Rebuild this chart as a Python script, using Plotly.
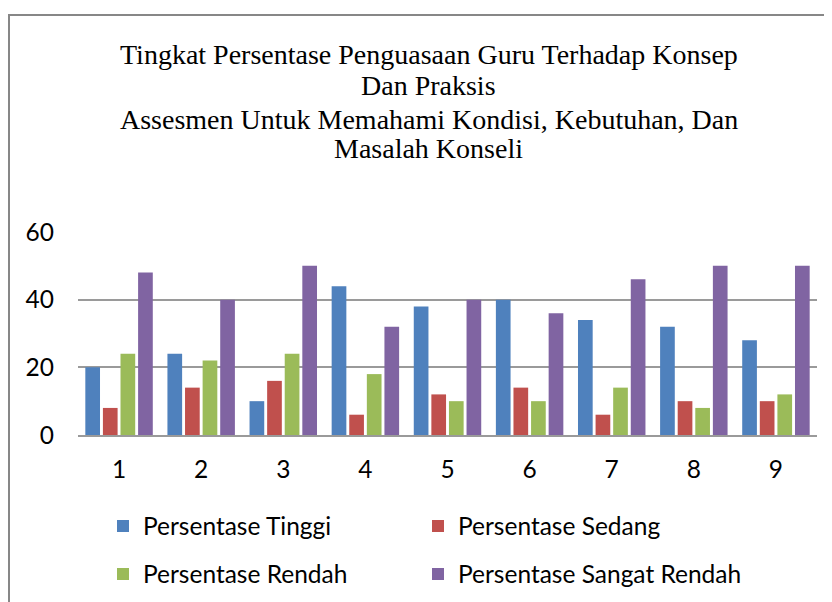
import plotly.graph_objects as go

categories = ["1", "2", "3", "4", "5", "6", "7", "8", "9"]
tinggi = [20, 24, 10, 44, 38, 40, 34, 32, 28]
sedang = [8, 14, 16, 6, 12, 14, 6, 10, 10]
rendah = [24, 22, 24, 18, 10, 10, 14, 8, 12]
sangat_rendah = [48, 40, 50, 32, 40, 36, 46, 50, 50]
series_names = ["Persentase Tinggi", "Persentase Sedang", "Persentase Rendah", "Persentase Sangat Rendah"]
title_lines = [
    "Tingkat Persentase Penguasaan Guru Terhadap Konsep",
    "Dan Praksis",
    "Assesmen Untuk Memahami Kondisi, Kebutuhan, Dan",
    "Masalah Konseli",
]
y_ticks = [0, 20, 40, 60]

OFF = 8  # page body margin
W, H = 832 - OFF, 602 - OFF
L, R = 78 - OFF, 15
T = 232 - OFF
B = H - (435 - OFF)
PW, PH = W - L - R, H - T - B

def px_x(px):
    return (px - OFF - L) / PW

def px_y(py):
    return (H - B - (py - OFF)) / PH

colors = ["#4F81BD", "#C0504D", "#9BBB59", "#8064A2"]
series = [tinggi, sedang, rendah, sangat_rendah]
legend_ids = ["legend", "legend2", "legend3", "legend4"]
legend_pos = [(103, 526), (418, 526), (103, 574), (418, 574)]

fig = go.Figure()
for name, vals, col, lg in zip(series_names, series, colors, legend_ids):
    fig.add_trace(go.Bar(
        x=categories, y=vals, name=name,
        marker=dict(color=col, line=dict(width=0)),
        legend=lg,
    ))

label_font = dict(family="Lato", size=24.5, color="#000000")

legend_layout = {}
for lg, (lx, ly) in zip(legend_ids, legend_pos):
    legend_layout[lg] = dict(orientation="h", x=px_x(lx), xanchor="left", y=px_y(ly), yanchor="middle",
                             font=label_font, bgcolor="rgba(0,0,0,0)")

fig.update_layout(
    width=W, height=H,
    margin=dict(l=L, r=R, t=T, b=B, autoexpand=False),
    paper_bgcolor="white", plot_bgcolor="white",
    barmode="group", bargap=0.143, bargroupgap=0.165,
    showlegend=True,
    xaxis=dict(type="category", showline=True, linecolor="#9A9A9A", linewidth=2,
               showgrid=False, ticks="", tickfont=label_font, ticklabelstandoff=12),
    yaxis=dict(range=[0, 60], tickvals=y_ticks, showgrid=True, gridcolor="#9A9A9A", gridwidth=1.5,
               zeroline=False, showline=False, ticks="", tickfont=label_font, ticklabelstandoff=23),
    **legend_layout,
)

title_px = [54, 85, 119.5, 148]
for line, py in zip(title_lines, title_px):
    fig.add_annotation(text=line, xref="paper", yref="paper", x=px_x(428.5), y=px_y(py),
                       xanchor="center", yanchor="middle", showarrow=False,
                       font=dict(family="Liberation Serif", size=28, color="#000000"))

fig.add_shape(type="rect", xref="paper", yref="paper",
              x0=px_x(9), x1=px_x(900), y0=px_y(700), y1=px_y(15),
              line=dict(color="#878787", width=2), fillcolor="rgba(0,0,0,0)", layer="below")

fig.write_html("out.html")
